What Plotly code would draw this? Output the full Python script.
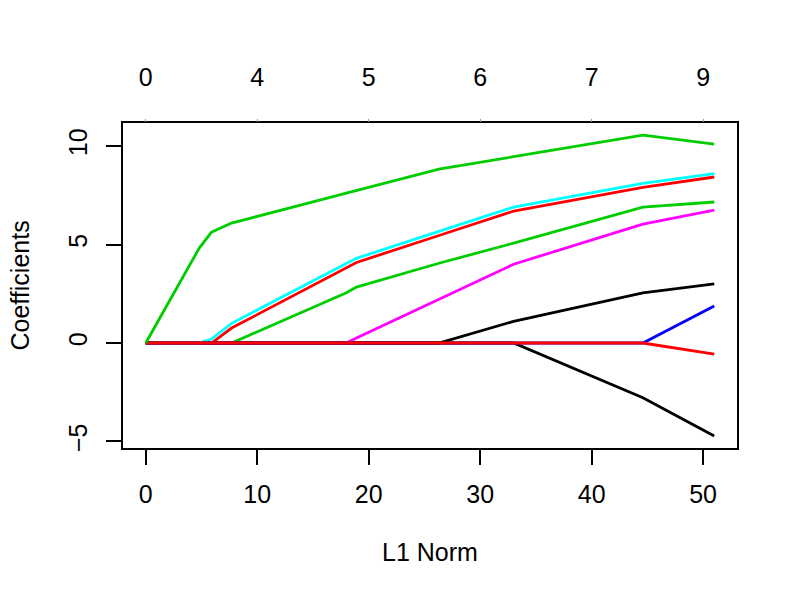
import plotly.graph_objects as go

# L1 norm knots (x) shared by all coefficient paths
l1_norm = [0, 4.8, 5.9, 7.7, 18.0, 18.9, 26.3, 33.0, 44.6, 51.0]

# Coefficient paths (glmnet colour cycle: black, red, green3, blue, cyan, magenta, ...)
coef_v1 = [0, 0, 0, 0, 0, 0, 0, 0, -2.78, -4.72]          # black (lower)
coef_v2 = [0, 0, 0, 0.76, 3.82, 4.09, 5.46, 6.70, 7.90, 8.43]  # red (upper)
coef_v3 = [0, 0, 0, 0, 2.55, 2.84, 4.05, 5.07, 6.90, 7.16]  # green (second)
coef_v4 = [0, 0, 0, 0, 0, 0, 0, 0, 0, 1.88]                # blue
coef_v5 = [0, 0, 0.2, 1.0, 4.04, 4.30, 5.67, 6.90, 8.10, 8.60]  # cyan
coef_v6 = [0, 0, 0, 0, 0, 0.25, 2.24, 4.00, 6.04, 6.75]    # magenta
coef_v7 = [0, 0, 0, 0, 0, 0, 0, 1.10, 2.54, 3.00]          # black (upper)
coef_v8 = [0, 0, 0, 0, 0, 0, 0, 0, 0, -0.56]               # red (lower)
coef_v9 = [0, 4.82, 5.63, 6.09, 7.61, 7.74, 8.83, 9.46, 10.56, 10.10]  # green (top)

series = [coef_v1, coef_v2, coef_v3, coef_v4, coef_v5, coef_v6, coef_v7, coef_v8, coef_v9]
colors = ["#000000", "#FF0000", "#00CD00", "#0000FF", "#00FFFF", "#FF00FF",
          "#000000", "#FF0000", "#00CD00"]

x_ticks = [0, 10, 20, 30, 40, 50]
df_ticks = ["0", "4", "5", "6", "7", "9"]
y_ticks = [-5, 0, 5, 10]

FONT = "Liberation Sans, Arial, Helvetica, sans-serif"
FS = 25

fig = go.Figure()
for vals, col in zip(series, colors):
    fig.add_trace(go.Scatter(x=l1_norm, y=vals, mode="lines",
                             line=dict(color=col, width=2.8), showlegend=False,
                             hoverinfo="skip"))
# invisible trace for top axis
fig.add_trace(go.Scatter(x=[l1_norm[0], l1_norm[-1]], y=[0, 0], xaxis="x2",
                         mode="lines", line=dict(width=0), showlegend=False,
                         hoverinfo="skip"))

xmin, xmax = 0, 51.0
xpad = (xmax - xmin) * 0.04
ymin = min(min(s) for s in series)
ymax = max(max(s) for s in series)
ypad = (ymax - ymin) * 0.04

fig.update_layout(
    width=800, height=600,
    margin=dict(l=123, r=63, t=123, b=152),
    paper_bgcolor="white", plot_bgcolor="white",
    font=dict(family=FONT, size=FS, color="black"),
    xaxis=dict(range=[xmin - xpad, xmax + xpad], tickvals=x_ticks,
               ticks="outside", ticklen=15, tickwidth=1.5, tickcolor="black",
               showline=True, linecolor="black", linewidth=2, mirror=True,
               showgrid=False, zeroline=False, ticklabelstandoff=8),
    xaxis2=dict(range=[xmin - xpad, xmax + xpad], overlaying="x", side="top",
                tickvals=x_ticks, ticktext=df_ticks, ticks="outside", ticklen=3,
                tickwidth=1, tickcolor="#999999", showline=False, showgrid=False,
                zeroline=False, ticklabelstandoff=23),
    yaxis=dict(range=[ymin - ypad, ymax + ypad], tickvals=y_ticks,
               ticks="outside", ticklen=15, tickwidth=1.5, tickcolor="black",
               showline=True, linecolor="black", linewidth=2, mirror=True,
               showgrid=False, zeroline=False, tickangle=-90,
               ticklabelstandoff=9),
    annotations=[
        dict(text="L1 Norm", x=0.5, y=0, xref="paper", yref="paper",
             xanchor="center", yanchor="middle", yshift=-104, showarrow=False,
             font=dict(family=FONT, size=FS)),
        dict(text="Coefficients", x=0, y=0.5, xref="paper", yref="paper",
             xanchor="center", yanchor="middle", xshift=-104, textangle=-90,
             showarrow=False, font=dict(family=FONT, size=FS)),
    ],
)

fig.write_html("out.html")
